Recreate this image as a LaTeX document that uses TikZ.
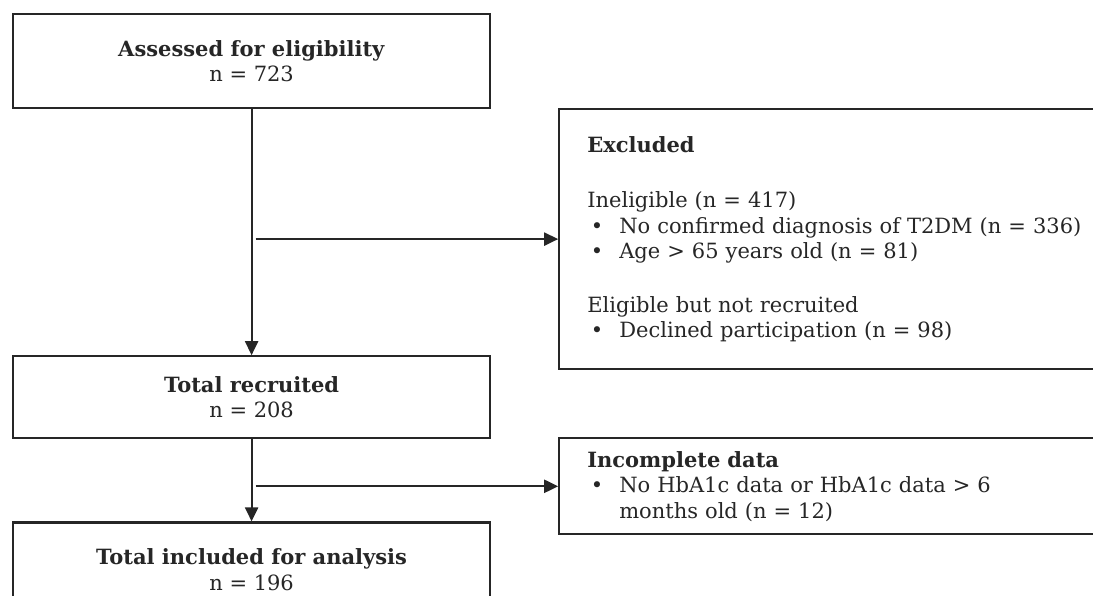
\documentclass[tikz,border=0pt]{standalone}
\usepackage{fontspec}
\setmainfont{DejaVu Serif}
\usetikzlibrary{positioning,arrows.meta}
\definecolor{ink}{HTML}{262626}

\begin{document}
\begin{tikzpicture}[x=1pt, y=-1pt,
  font=\fontsize{21}{25.5}\selectfont, text=ink,
  box/.style={draw=ink, line width=2.2pt, rectangle, inner sep=0pt},
  midbox/.style={box, minimum width=477pt, align=center},
  sidebox/.style={box, inner xsep=28pt, text width=560pt, align=left},
  link/.style={draw=ink, line width=2.2pt, -{Triangle[length=14pt, width=13pt]}}]
  \useasboundingbox (0,0) rectangle (1093,595);
  \clip (0,0) rectangle (1093,595);

  % Define nodes
  \node[midbox, minimum height=94pt, anchor=north west] (assessed) at (12,13)
    {\textbf{Assessed for eligibility}\\ n = 723};
  \node[midbox, minimum height=82pt, below=246pt of assessed] (recruited)
    {\textbf{Total recruited}\\ n = 208};
  \node[midbox, minimum height=94pt, below=82pt of recruited] (included)
    {\textbf{Total included for analysis}\\ n = 196};
  \node[sidebox, minimum height=260pt, right=67pt of assessed.north east, anchor=north west, yshift=-95pt] (excluded)
    {\textbf{Excluded}\\[30pt]
     Ineligible (n = 417)\\
     \makebox[32pt][l]{\,\textbullet}No confirmed diagnosis of T2DM (n = 336)\\
     \makebox[32pt][l]{\,\textbullet}Age > 65 years old (n = 81)\\[28pt]
     Eligible but not recruited\\
     \makebox[32pt][l]{\,\textbullet}Declined participation (n = 98)};
  \node[sidebox, minimum height=96pt, below=67pt of excluded.south west, anchor=north west] (incomplete)
    {\textbf{Incomplete data}\\
     \makebox[32pt][l]{\,\textbullet}No HbA1c data or HbA1c data > 6\\
     \hspace*{32pt}months old (n = 12)};
  \coordinate (split1) at ([xshift=4pt]assessed.south |- excluded.west);
  \coordinate (split2) at ([xshift=4pt]recruited.south |- incomplete.west);

  % Connect the nodes
  \draw[link] (assessed) -- (recruited);
  \draw[link] (recruited) -- (included);
  \draw[link] (split1) -- (excluded.west);
  \draw[link] (split2) -- (incomplete.west);

\end{tikzpicture}
\end{document}
